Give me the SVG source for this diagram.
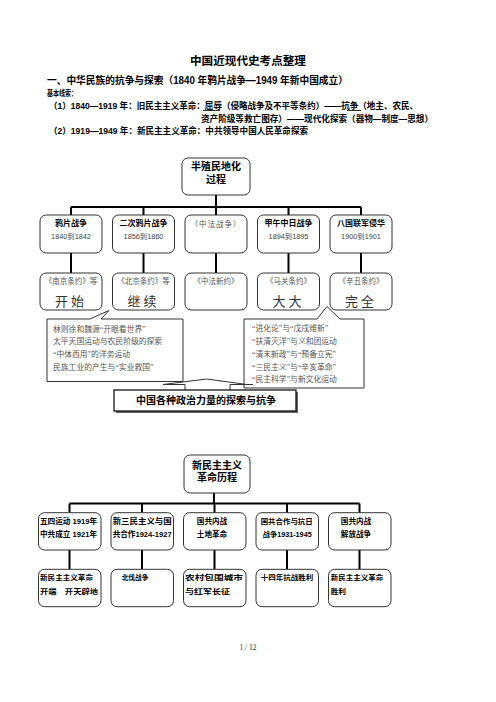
<svg xmlns="http://www.w3.org/2000/svg" width="496" height="702" viewBox="0 0 496 702">
<style>
.b{font-family:"Liberation Sans","Noto Sans CJK SC",sans-serif;font-weight:bold;fill:#000}
.s{font-family:"Liberation Serif","Noto Sans CJK SC",serif;fill:#333}
.g{font-family:"Liberation Serif","Noto Sans CJK SC",serif;fill:#555}
.d{font-family:"Liberation Sans","Noto Sans CJK SC",sans-serif;fill:#444}
.box{fill:#fff;stroke:#333;stroke-width:1}
.con{stroke:#000;stroke-width:2;fill:none}
.call{fill:#fff;stroke:#333;stroke-width:1}
</style>
<rect width="496" height="702" fill="#fff"/>
<g id="header">
<text class="b" x="248" y="65" font-size="11.6" text-anchor="middle">中国近现代史考点整理</text>
<text class="b" x="47" y="84.2" font-size="10" textLength="301" lengthAdjust="spacingAndGlyphs">一、中华民族的抗争与探索（1840 年鸦片战争—1949 年新中国成立）</text>
<text class="b" x="47" y="95.8" font-size="8.5" textLength="30" lengthAdjust="spacingAndGlyphs">基本线索：</text>
<text class="b" x="49" y="109" font-size="8.8" textLength="369" lengthAdjust="spacingAndGlyphs">（1）1840—1919 年：旧民主主义革命：屈辱（侵略战争及不平等条约）——抗争（地主、农民、</text>
<line x1="203" y1="110.5" x2="220" y2="110.5" stroke="#000" stroke-width="0.8"/>
<line x1="347" y1="110.5" x2="361" y2="110.5" stroke="#000" stroke-width="0.8"/>
<text class="b" x="201" y="122.3" font-size="8.8" textLength="232" lengthAdjust="spacingAndGlyphs">资产阶级等救亡图存）——现代化探索（器物—制度—思想）</text>
<text class="b" x="49" y="134.3" font-size="8.8" textLength="259" lengthAdjust="spacingAndGlyphs">（2）1919—1949 年：新民主主义革命：中共领导中国人民革命探索</text>
</g>
<g id="connectors">
<path class="con" d="M216,195 V207 M71,207 H361 M71,207 V215 M143.5,207 V215 M216,207 V215 M288.5,207 V215 M361,207 V215"/>
<path class="con" d="M71,253 V273 M143.5,253 V273 M216,253 V273 M288.5,253 V273 M361,253 V273"/>
<path class="con" d="M214,493 V503.5 M69.5,503.5 H359.5 M69.5,503.5 V512.7 M142,503.5 V512.7 M214.5,503.5 V512.7 M287,503.5 V512.7 M359.5,503.5 V512.7"/>
<path class="con" d="M69.5,550 V569.3 M142,550 V569.3 M214.5,550 V569.3 M287,550 V569.3 M359.5,550 V569.3"/>
</g>
<g id="root1">
<rect class="box" x="182" y="158" width="68" height="37" rx="6"/>
<text class="b" x="216" y="169.5" font-size="10" text-anchor="middle">半殖民地化</text>
<text class="b" x="216" y="182.5" font-size="10" text-anchor="middle">过程</text>
</g>
<g id="war1">
<rect class="box" x="40" y="215" width="62" height="38" rx="6"/>
<text class="b" x="71" y="226.3" font-size="8" text-anchor="middle">鸦片战争</text>
<text class="d" x="71" y="239" font-size="7.3" text-anchor="middle">1840到1842</text>
</g>
<g id="war2">
<rect class="box" x="112.5" y="215" width="62" height="38" rx="6"/>
<text class="b" x="143.5" y="226.3" font-size="8" text-anchor="middle">二次鸦片战争</text>
<text class="d" x="143.5" y="239" font-size="7.3" text-anchor="middle">1856到1860</text>
</g>
<g id="war3">
<rect class="box" x="185" y="215" width="62" height="38" rx="6"/>
<text class="g" x="216" y="227" font-size="7.5" text-anchor="middle" fill="#777" letter-spacing="1">（中法战争）</text>
</g>
<g id="war4">
<rect class="box" x="257.5" y="215" width="62" height="38" rx="6"/>
<text class="b" x="288.5" y="226.3" font-size="8" text-anchor="middle">甲午中日战争</text>
<text class="d" x="288.5" y="239" font-size="7.3" text-anchor="middle">1894到1895</text>
</g>
<g id="war5">
<rect class="box" x="330" y="215" width="62" height="38" rx="6"/>
<text class="b" x="361" y="226.3" font-size="8" text-anchor="middle">八国联军侵华</text>
<text class="d" x="361" y="239" font-size="7.3" text-anchor="middle">1900到1901</text>
</g>
<g id="treaty1">
<rect class="box" x="40" y="273" width="62" height="37" rx="6"/>
<text class="g" x="71" y="283.5" font-size="7.5" text-anchor="middle">《南京条约》等</text>
<text class="s" x="71" y="305.5" font-size="13" text-anchor="middle" letter-spacing="3">开始</text>
</g>
<g id="treaty2">
<rect class="box" x="112.5" y="273" width="62" height="37" rx="6"/>
<text class="g" x="143.5" y="283.5" font-size="7.5" text-anchor="middle">《北京条约》等</text>
<text class="s" x="143.5" y="305.5" font-size="13" text-anchor="middle" letter-spacing="3">继续</text>
</g>
<g id="treaty3">
<rect class="box" x="185" y="273" width="62" height="37" rx="6"/>
<text class="g" x="216" y="283.5" font-size="7.5" text-anchor="middle">《中法新约》</text>
</g>
<g id="treaty4">
<rect class="box" x="257.5" y="273" width="62" height="37" rx="6"/>
<text class="g" x="288.5" y="283.5" font-size="7.5" text-anchor="middle">《马关条约》</text>
<text class="s" x="288.5" y="305.5" font-size="13" text-anchor="middle" letter-spacing="3">大大</text>
</g>
<g id="treaty5">
<rect class="box" x="330" y="273" width="62" height="37" rx="6"/>
<text class="g" x="361" y="283.5" font-size="7.5" text-anchor="middle">《辛丑条约》</text>
<text class="s" x="361" y="305.5" font-size="13" text-anchor="middle" letter-spacing="3">完全</text>
</g>
<g id="callout-left">
<path class="call" d="M47,319 H90 L109,310.5 L101,319 H183 V381.5 H47 Z"/>
<text class="g" x="53" y="332" font-size="7.8">林则徐和魏源“开眼看世界”</text>
<text class="g" x="53" y="344" font-size="7.8">太平天国运动与农民阶级的探索</text>
<text class="g" x="53" y="357" font-size="7.8">“中体西用”的洋务运动</text>
<text class="g" x="53" y="369.5" font-size="7.8">民族工业的产生与“实业救国”</text>
</g>
<g id="callout-right">
<path class="call" d="M244,319 H317 L327,306.5 L340,319 H364 V388 H244 Z"/>
<text class="g" x="252" y="331" font-size="7.8">“进化论”与“戊戌维新”</text>
<text class="g" x="252" y="344" font-size="7.8">“扶清灭洋”与义和团运动</text>
<text class="g" x="252" y="356.5" font-size="7.8">“清末新政”与“预备立宪”</text>
<text class="g" x="252" y="369.5" font-size="7.8">“三民主义”与“辛亥革命”</text>
<text class="g" x="252" y="382" font-size="7.8">“民主科学”与新文化运动</text>
</g>
<g id="banner">
<path d="M163,384.5 L206.7,379 L247,384.5" fill="none" stroke="#333" stroke-width="1"/>
<path d="M163,384.5 H185 V390 M230,390 V384.5 H253" fill="none" stroke="#333" stroke-width="1"/>
<rect x="116" y="392" width="182" height="21" fill="#666"/>
<rect x="114" y="390" width="182" height="21" fill="#fff" stroke="#000" stroke-width="1.2"/>
<text class="b" x="206" y="404.2" font-size="10" text-anchor="middle" textLength="140" lengthAdjust="spacingAndGlyphs">中国各种政治力量的探索与抗争</text>
</g>
<g id="root2">
<rect class="box" x="184" y="455" width="66" height="38" rx="6"/>
<text class="b" x="217" y="468.5" font-size="10" text-anchor="middle">新民主主义</text>
<text class="b" x="217" y="481" font-size="10" text-anchor="middle">革命历程</text>
</g>
<g id="stage1">
<rect class="box" x="38.5" y="512.7" width="62.5" height="37.3" rx="6"/>
<text class="b" x="40" y="524" font-size="7.6" textLength="57" lengthAdjust="spacingAndGlyphs">五四运动 1919年</text>
<text class="b" x="40" y="537" font-size="7.6" textLength="57" lengthAdjust="spacingAndGlyphs">中共成立 1921年</text>
</g>
<g id="stage2">
<rect class="box" x="111" y="512.7" width="62.5" height="37.3" rx="6"/>
<text class="b" x="112.7" y="524" font-size="8" textLength="59" lengthAdjust="spacingAndGlyphs">新三民主义与国</text>
<text class="b" x="112.7" y="537" font-size="8" textLength="59" lengthAdjust="spacingAndGlyphs">共合作1924-1927</text>
</g>
<g id="stage3">
<rect class="box" x="183.5" y="512.7" width="62.5" height="37.3" rx="6"/>
<text class="b" x="212" y="524" font-size="7.6" text-anchor="middle">国共内战</text>
<text class="b" x="212" y="537" font-size="7.6" text-anchor="middle">土地革命</text>
</g>
<g id="stage4">
<rect class="box" x="256" y="512.7" width="62.5" height="37.3" rx="6"/>
<text class="b" x="260.7" y="524" font-size="7.4" textLength="52" lengthAdjust="spacingAndGlyphs">国共合作与抗日</text>
<text class="b" x="262.7" y="537" font-size="7.4" textLength="49" lengthAdjust="spacingAndGlyphs">战争1931-1945</text>
</g>
<g id="stage5">
<rect class="box" x="328.5" y="512.7" width="62.5" height="37.3" rx="6"/>
<text class="b" x="356" y="524" font-size="7.6" text-anchor="middle">国共内战</text>
<text class="b" x="356" y="537" font-size="7.6" text-anchor="middle">解放战争</text>
</g>
<g id="result1">
<rect class="box" x="38.5" y="569.3" width="62.5" height="37.4" rx="6"/>
<text class="b" x="40" y="579.5" font-size="7.4" textLength="53" lengthAdjust="spacingAndGlyphs">新民主主义革命</text>
<text class="b" x="40" y="593.5" font-size="7.4" textLength="58" lengthAdjust="spacingAndGlyphs">开端　开天辟地</text>
</g>
<g id="result2">
<rect class="box" x="111" y="569.3" width="62.5" height="37.4" rx="6"/>
<text class="b" x="121.7" y="579.5" font-size="7.4" textLength="26.6" lengthAdjust="spacingAndGlyphs">北伐战争</text>
</g>
<g id="result3">
<rect class="box" x="183.5" y="569.3" width="62.5" height="37.4" rx="6"/>
<text class="b" x="185" y="579.5" font-size="7.4" textLength="58" lengthAdjust="spacingAndGlyphs">农村包围城市</text>
<text class="b" x="185" y="593.5" font-size="7.4" textLength="45" lengthAdjust="spacingAndGlyphs">与红军长征</text>
</g>
<g id="result4">
<rect class="box" x="256" y="569.3" width="62.5" height="37.4" rx="6"/>
<text class="b" x="260.7" y="579.5" font-size="7.4" textLength="52.6" lengthAdjust="spacingAndGlyphs">十四年抗战胜利</text>
</g>
<g id="result5">
<rect class="box" x="328.5" y="569.3" width="62.5" height="37.4" rx="6"/>
<text class="b" x="330.7" y="579.5" font-size="7.4" textLength="52.6" lengthAdjust="spacingAndGlyphs">新民主主义革命</text>
<text class="b" x="330.7" y="593.5" font-size="7.4" textLength="15.3" lengthAdjust="spacingAndGlyphs">胜利</text>
</g>
<g id="footer">
<text class="s" x="248" y="649.5" font-size="7.5" text-anchor="middle" fill="#000">1 / 12</text>
</g>
</svg>
